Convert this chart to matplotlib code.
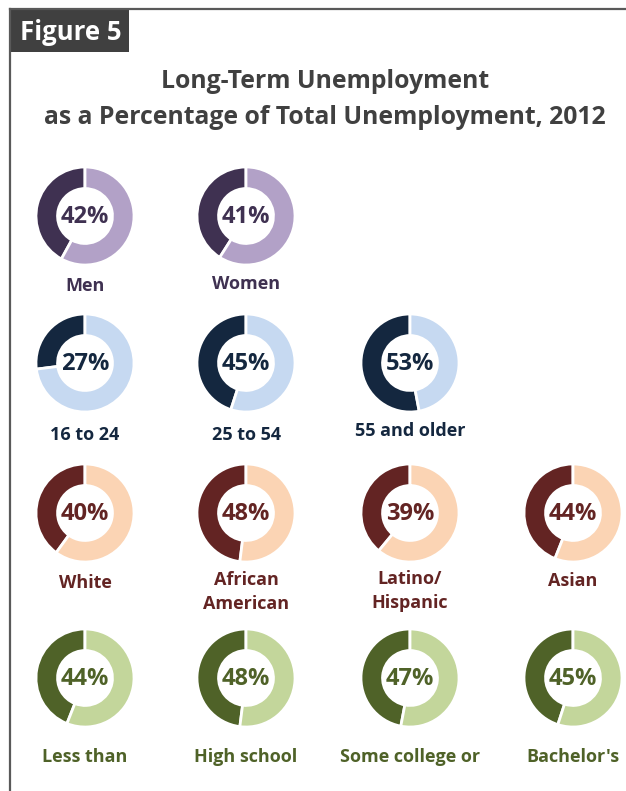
import matplotlib.pyplot as plt
from matplotlib.patches import Rectangle
from matplotlib.lines import Line2D

plt.rcParams['font.family'] = ['Open Sans', 'DejaVu Sans']

# long-term share of unemployment, by group (2012)
gender_labels = ["Men", "Women"]
gender_pct = [42, 41]
age_labels = ["16 to 24", "25 to 54", "55 and older"]
age_pct = [27, 45, 53]
race_labels = ["White", "African\nAmerican", "Latino/\nHispanic", "Asian"]
race_pct = [40, 48, 39, 44]
edu_labels = ["Less than", "High school", "Some college or", "Bachelor's"]
edu_pct = [44, 48, 47, 45]

groups = [
    (gender_labels, gender_pct, "#3F3151", "#B2A1C7"),
    (age_labels, age_pct, "#14273F", "#C6D9F1"),
    (race_labels, race_pct, "#632423", "#FBD4B4"),
    (edu_labels, edu_pct, "#4F6228", "#C3D69B"),
]

W, H = 626, 791
fig = plt.figure(figsize=(W / 100, H / 100), dpi=100)

col_x = [85, 246, 410, 573]
row_y = [216, 363, 513, 678]
label_y = [[286, 284], [435, 435, 431], [583, 592, 591, 581], [757, 757, 757, 757]]
R = 50


def fx(x):
    return x / W


def fy(y):
    return 1 - y / H


# frame and header box
fig.add_artist(Line2D([fx(9.5), fx(9.5)], [fy(8.5), 0], color="#595959", lw=1.6))
fig.add_artist(Line2D([fx(9.5), 1], [fy(8.5), fy(8.5)], color="#595959", lw=1.6))
fig.add_artist(Rectangle((fx(11), fy(52)), fx(129) - fx(11), fy(10) - fy(52),
                         facecolor="#404040", edgecolor="none"))
fig.text(fx(71), fy(32), "Figure 5", color="white", fontsize=18.5, fontweight="bold",
         ha="center", va="center")

fig.text(fx(325), fy(81), "Long-Term Unemployment", color="#404040", fontsize=17.8,
         fontweight="bold", ha="center", va="center")
fig.text(fx(325), fy(117), "as a Percentage of Total Unemployment, 2012", color="#404040",
         fontsize=17.8, fontweight="bold", ha="center", va="center")

for r, (labels, pcts, dark, light) in enumerate(groups):
    for c, (lab, p) in enumerate(zip(labels, pcts)):
        cx, cy = col_x[c], row_y[r]
        ax = fig.add_axes([fx(cx - R), fy(cy + R), 2 * R / W, 2 * R / H])
        ax.pie([p, 100 - p], colors=[dark, light], startangle=90, counterclock=True,
               radius=1, wedgeprops=dict(width=0.44, edgecolor="white", linewidth=2))
        ax.set_xlim(-1.02, 1.02)
        ax.set_ylim(-1.02, 1.02)
        ax.set_aspect("equal")
        ax.axis("off")
        ax.text(0, -0.02, f"{p}%", color=dark, fontsize=17, fontweight="bold",
                ha="center", va="center")
        fig.text(fx(cx), fy(label_y[r][c]), lab, color=dark, fontsize=13,
                 fontweight="bold", ha="center", va="center", linespacing=1.45)

fig.savefig("out.png", dpi=100)
